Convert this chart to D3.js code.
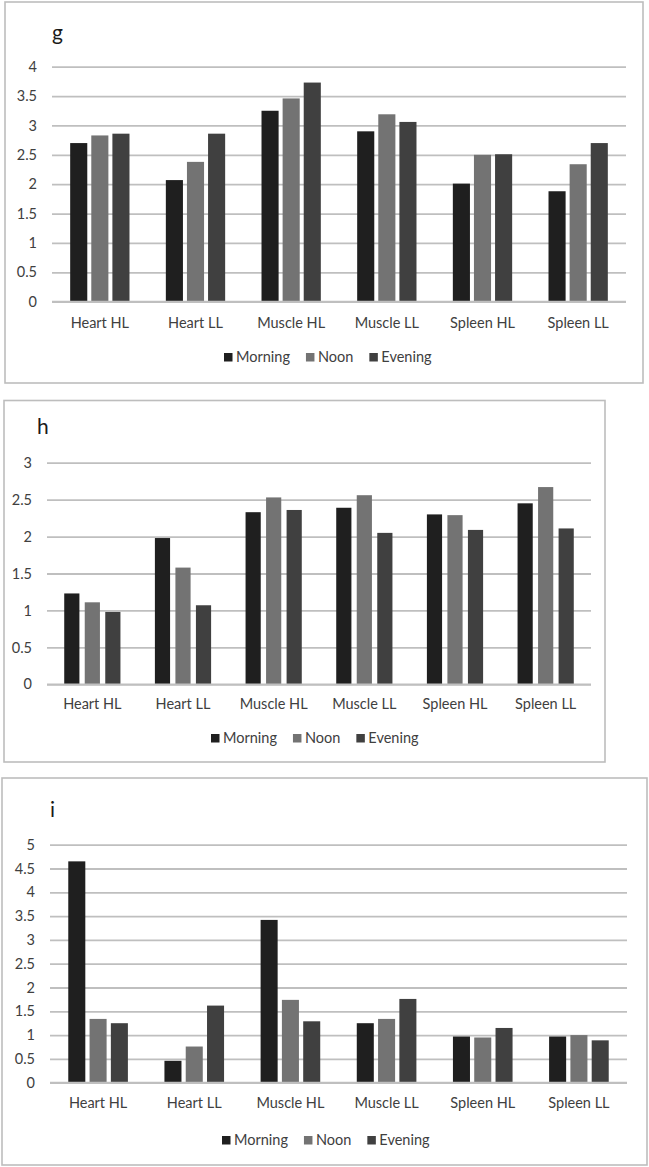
<!DOCTYPE html>
<html>
<head>
<meta charset="utf-8">
<script src="https://cdn.jsdelivr.net/npm/d3@7"></script>
<style>
  html, body { margin: 0; padding: 0; background: #fff; }
  svg { display: block; }
  text { font-family: Lato, "Open Sans", sans-serif; }
</style>
</head>
<body>
<svg id="chart" width="649" height="1167"></svg>
<script>
const categories = ["Heart HL", "Heart LL", "Muscle HL", "Muscle LL", "Spleen HL", "Spleen LL"];
const seriesNames = ["Morning", "Noon", "Evening"];
const seriesColors = ["#1f1f1f", "#737373", "#404040"];

// Panel g
const gMorning = [2.70, 2.07, 3.25, 2.90, 2.01, 1.88];
const gNoon    = [2.83, 2.38, 3.46, 3.19, 2.50, 2.34];
const gEvening = [2.86, 2.86, 3.73, 3.06, 2.51, 2.70];
const gTicks = [0, 0.5, 1, 1.5, 2, 2.5, 3, 3.5, 4];

// Panel h
const hMorning = [1.23, 1.98, 2.33, 2.39, 2.30, 2.45];
const hNoon    = [1.11, 1.58, 2.53, 2.56, 2.29, 2.67];
const hEvening = [0.98, 1.07, 2.36, 2.05, 2.09, 2.11];
const hTicks = [0, 0.5, 1, 1.5, 2, 2.5, 3];

// Panel i
const iMorning = [4.65, 0.46, 3.42, 1.25, 0.97, 0.97];
const iNoon    = [1.34, 0.76, 1.74, 1.34, 0.95, 1.00];
const iEvening = [1.25, 1.62, 1.29, 1.76, 1.15, 0.89];
const iTicks = [0, 0.5, 1, 1.5, 2, 2.5, 3, 3.5, 4, 4.5, 5];

const panels = [
  { title: "g", series: [gMorning, gNoon, gEvening], ticks: gTicks,
    frame: {x0: 5, y0: 2, x1: 643, y1: 383},
    plot: {x0: 52, x1: 626, yBottom: 301.7, yTop: 66.7},
    titlePos: {x: 52, y: 40}, titleSize: 21,
    catY: 328, legendY: 357, legendX: 224, barPad: 0.19 },
  { title: "h", series: [hMorning, hNoon, hEvening], ticks: hTicks,
    frame: {x0: 4, y0: 400.5, x1: 605, y1: 762},
    plot: {x0: 47, x1: 591, yBottom: 684.3, yTop: 462.7},
    titlePos: {x: 37, y: 434}, titleSize: 21,
    catY: 709, legendY: 738, legendX: 211, barPad: 0.26 },
  { title: "i", series: [iMorning, iNoon, iEvening], ticks: iTicks,
    frame: {x0: 2, y0: 778, x1: 647, y1: 1165},
    plot: {x0: 50, x1: 627, yBottom: 1082.7, yTop: 844.7},
    titlePos: {x: 50, y: 817}, titleSize: 21,
    catY: 1108, legendY: 1140, legendX: 222, barPad: 0.2 }
];

const svg = d3.select("#chart");

panels.forEach(p => {
  const g = svg.append("g");
  const maxTick = p.ticks[p.ticks.length - 1];

  // frame
  g.append("rect")
    .attr("x", p.frame.x0).attr("y", p.frame.y0)
    .attr("width", p.frame.x1 - p.frame.x0).attr("height", p.frame.y1 - p.frame.y0)
    .attr("fill", "#fff").attr("stroke", "#bdbdbd").attr("stroke-width", 1.6);

  // title
  g.append("text")
    .attr("x", p.titlePos.x).attr("y", p.titlePos.y)
    .attr("font-size", p.titleSize).attr("fill", "#1a1a1a")
    .text(p.title);

  const y = d3.scaleLinear().domain([0, maxTick]).range([p.plot.yBottom, p.plot.yTop]);
  const x0 = d3.scaleBand().domain(categories).range([p.plot.x0, p.plot.x1])
    .paddingInner(0.38).paddingOuter(0.19);
  const x1 = d3.scaleBand().domain(seriesNames).range([0, x0.bandwidth()])
    .paddingInner(p.barPad);

  // gridlines + y labels via axis
  const yAxis = d3.axisLeft(y).tickValues(p.ticks)
    .tickSize(-(p.plot.x1 - p.plot.x0)).tickPadding(15)
    .tickFormat(d => d3.format("")(d));
  const ya = g.append("g").attr("transform", `translate(${p.plot.x0},0)`).call(yAxis);
  ya.select(".domain").remove();
  ya.selectAll(".tick line").attr("stroke", "#bfbfbf").attr("stroke-width", 1.8);
  ya.selectAll(".tick text").attr("font-size", 14.5).attr("fill", "#404040")
    .attr("font-family", "Lato, sans-serif");

  // bars
  const rows = categories.map((c, ci) => ({ cat: c, vals: seriesNames.map((s, si) => ({ s, si, v: p.series[si][ci] })) }));
  const grp = g.append("g").selectAll("g").data(rows).join("g")
    .attr("transform", d => `translate(${x0(d.cat)},0)`);
  grp.selectAll("rect").data(d => d.vals).join("rect")
    .attr("x", d => x1(d.s))
    .attr("y", d => y(d.v))
    .attr("width", x1.bandwidth())
    .attr("height", d => y(0) - y(d.v))
    .attr("fill", d => seriesColors[d.si]);

  // redraw zero line on top
  g.append("line")
    .attr("x1", p.plot.x0).attr("x2", p.plot.x1)
    .attr("y1", y(0)).attr("y2", y(0))
    .attr("stroke", "#bfbfbf").attr("stroke-width", 1.8);

  // category labels via bottom axis
  const xAxis = d3.axisBottom(x0).tickSize(0).tickPadding(0);
  const xa = g.append("g").attr("transform", `translate(0,${p.catY})`).call(xAxis);
  xa.select(".domain").remove();
  xa.selectAll(".tick text").attr("font-size", 14.5).attr("fill", "#404040")
    .attr("font-family", "Lato, sans-serif").attr("dy", 0);

  // legend
  const leg = g.append("g").attr("transform", `translate(${p.legendX},${p.legendY})`);
  let cx = 0;
  seriesNames.forEach((s, si) => {
    leg.append("rect").attr("x", cx).attr("y", -4).attr("width", 8.5).attr("height", 8.5)
      .attr("fill", seriesColors[si]);
    const t = leg.append("text").attr("x", cx + 12).attr("y", 5)
      .attr("font-size", 14.5).attr("fill", "#404040").text(s);
    const w = t.node().getComputedTextLength();
    cx += 12 + w + 16;
  });
});
</script>
</body>
</html>
